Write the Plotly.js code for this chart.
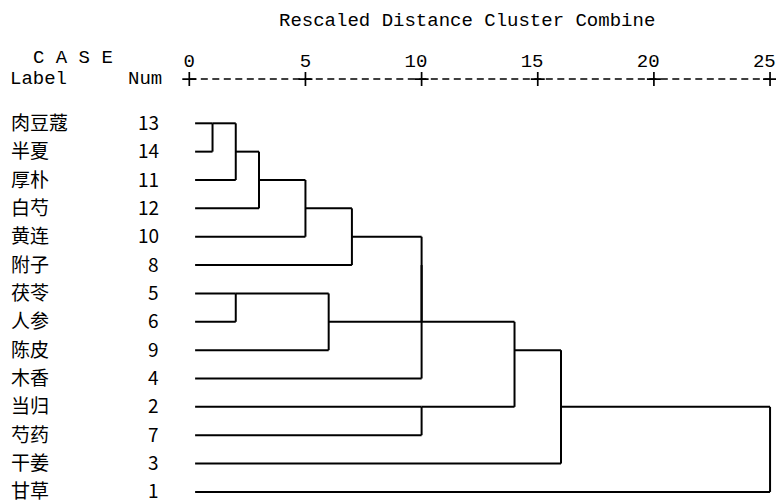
<!DOCTYPE html>
<html>
<head>
<meta charset="utf-8">
<script src="https://cdn.plot.ly/plotly-3.0.1.min.js"></script>
<style>html,body{margin:0;padding:0;background:#fff;}#chart{width:776px;height:501px;}</style>
</head>
<body>
<div id="chart"></div>
<script>
// ---- data ----
const caseLabels = ['肉豆蔻','半夏','厚朴','白芍','黄连','附子','茯苓','人参','陈皮','木香','当归','芍药','干姜','甘草'];
const caseNums = [13,14,11,12,10,8,5,6,9,4,2,7,3,1];
// merges: children are leaves (L#, row index) or earlier merges (M#)
const mergeLeft  = ['L0','M0','M1','M2','M3','L6','M5','M4','M7','L10','M8','M10','M11'];
const mergeRight = ['L1','L2','L3','L4','L5','L7','L8','M6','L9','L11','M9','L12','L13'];
const mergeDist  = [1, 2, 3, 5, 7, 2, 6, 10, 10, 10, 14, 16, 25];
const tickVals = [0,5,10,15,20,25];
const tickText = ['0','5','10','15','20','25'];

// ---- build dendrogram segments ----
const LEAF_X = 0.25;
const nodes = {};
caseLabels.forEach((_, i) => { nodes['L' + i] = {x: LEAF_X, row: i}; });
const xs = [], ys = [];
mergeDist.forEach((d, k) => {
  const a = nodes[mergeLeft[k]], b = nodes[mergeRight[k]];
  [a, b].forEach(c => {
    if (c.x < d) { xs.push(c.x, d, null); ys.push(c.row, c.row, null); }
  });
  xs.push(d, d, null); ys.push(a.row, b.row, null);
  nodes['M' + k] = {x: d, row: Math.floor((a.row + b.row) / 2)};
});

const MONO = 'Liberation Mono, DejaVu Sans Mono, monospace';
const CJK = 'Noto Sans CJK SC, Noto Sans, sans-serif';
const AXIS_ROW = -1.56;
// monospace tick labels: pad with a trailing no-break space so the last digit sits on the tick
const tickTextAligned = tickText.map(t => t.length > 1 ? t + '\u00a0' : t);

const traces = [
  {x: xs, y: ys, mode: 'lines', line: {color: '#000', width: 2}, hoverinfo: 'skip', cliponaxis: false},
  {x: [0, 25], y: [AXIS_ROW, AXIS_ROW], mode: 'lines', line: {color: '#000', width: 1.4, dash: '7px,4.5px'}, hoverinfo: 'skip', cliponaxis: false},
  {x: tickVals, y: tickVals.map(() => AXIS_ROW), mode: 'markers', marker: {symbol: 'cross-thin', size: 10, line: {color: '#000', width: 1.7}}, hoverinfo: 'skip', cliponaxis: false}
];

const annotations = [];
caseLabels.forEach((lab, i) => {
  annotations.push({x: -7.72, y: i, xref: 'x', yref: 'y', text: lab, showarrow: false, xanchor: 'left', yanchor: 'middle', borderpad: 0, yshift: 2,
    font: {family: CJK, size: 19, color: '#000'}});
  annotations.push({x: -1.25, y: i, xref: 'x', yref: 'y', text: String(caseNums[i]), showarrow: false, xanchor: 'right', yanchor: 'middle', borderpad: 0, yshift: 2,
    font: {family: CJK, size: 19, color: '#000'}});
});
annotations.push({x: -6.77, y: 1.033, xref: 'x', yref: 'paper', text: 'C A S E', showarrow: false, xanchor: 'left', yanchor: 'middle', borderpad: 0,
  font: {family: MONO, size: 19, color: '#000'}});
annotations.push({x: -7.75, y: AXIS_ROW, xref: 'x', yref: 'y', text: 'Label', showarrow: false, xanchor: 'left', yanchor: 'middle', borderpad: 0,
  font: {family: MONO, size: 19, color: '#000'}});
annotations.push({x: -2.7, y: AXIS_ROW, xref: 'x', yref: 'y', text: 'Num', showarrow: false, xanchor: 'left', yanchor: 'middle', borderpad: 0,
  font: {family: MONO, size: 19, color: '#000'}});

const layout = {
  width: 776, height: 501,
  margin: {l: 0, r: 0, t: 72, b: 0},
  paper_bgcolor: '#fff', plot_bgcolor: '#fff',
  showlegend: false,
  title: {text: 'Rescaled Distance Cluster Combine', x: 0.602, xanchor: 'center', y: 0.962, yanchor: 'middle',
    font: {family: MONO, size: 19, color: '#000'}},
  xaxis: {range: [-8.149, 25.256], side: 'top', tickvals: tickVals, ticktext: tickTextAligned, ticks: '',
    ticklabeloverflow: 'allow',
    showgrid: false, zeroline: false, showline: false, tickfont: {family: MONO, size: 19, color: '#000'}, fixedrange: true},
  yaxis: {range: [13.32, -1.809], showgrid: false, zeroline: false, showline: false, showticklabels: false, ticks: '', fixedrange: true},
  annotations: annotations
};

Plotly.newPlot('chart', traces, layout, {displayModeBar: false, staticPlot: true});
</script>
</body>
</html>
